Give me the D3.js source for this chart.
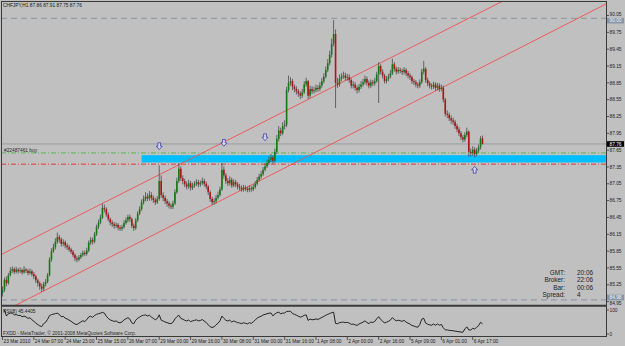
<!DOCTYPE html>
<html lang="en">
<head>
<meta charset="UTF-8">
<title>CHFJPY,H1</title>
<script src="https://d3js.org/d3.v7.min.js"></script>
<style>
    html, body { margin: 0; padding: 0; background: #c0c0c0; }
    svg { display: block; font-family: 'Liberation Sans', Arial, sans-serif; }
</style>
</head>
<body>
<div id="chart"></div>
<script>
// H1 candles (open = previous close)
const firstOpen = 85.10;
const closes = [
    85.16, 85.34, 85.28, 85.42, 85.50, 85.53, 85.48, 85.52, 85.49, 85.51, 85.47, 85.52, 85.50, 85.46, 85.49, 85.44,
    85.40, 85.33, 85.28, 85.22, 85.18, 85.26, 85.30, 85.42, 85.70, 85.85, 85.92, 86.02, 86.10, 86.06, 85.98, 86.01,
    85.95, 85.92, 85.88, 85.84, 85.78, 85.72, 85.70, 85.74, 85.78, 85.82, 85.80, 85.86, 86.00, 86.05, 86.02, 86.15,
    86.28, 86.36, 86.45, 86.62, 86.60, 86.50, 86.42, 86.36, 86.33, 86.30, 86.32, 86.27, 86.25, 86.28, 86.35, 86.40,
    86.46, 86.42, 86.30, 86.26, 86.40, 86.52, 86.60, 86.72, 86.78, 86.82, 86.79, 86.85, 86.80, 86.76, 86.72, 86.78,
    87.10, 86.85, 86.80, 86.74, 86.70, 86.66, 86.64, 86.70, 86.90, 87.10, 87.32, 87.15, 87.10, 87.04, 87.00, 87.06,
    86.98, 87.02, 87.05, 87.08, 87.04, 87.06, 87.10, 87.05, 87.00, 86.90, 86.78, 86.72, 86.74, 86.80, 86.85, 86.95,
    87.30, 87.20, 87.10, 87.06, 87.12, 87.02, 87.08, 87.04, 87.00, 86.98, 86.95, 86.98, 86.96, 86.94, 86.97, 86.95,
    86.99, 87.05, 87.12, 87.18, 87.22, 87.30, 87.36, 87.42, 87.48, 87.52, 87.46, 87.62, 87.85, 88.00, 87.95, 88.08,
    88.10, 88.72, 88.85, 88.88, 88.78, 88.74, 88.70, 88.66, 88.62, 88.68, 88.82, 88.88, 88.62, 88.74, 88.70, 88.72,
    88.76, 88.74, 88.80, 88.88, 88.96, 89.08, 89.20, 89.35, 89.55, 89.72, 88.85, 88.82, 88.92, 88.96, 88.98, 88.94,
    88.95, 88.90, 88.80, 88.82, 88.76, 88.72, 88.78, 88.82, 88.86, 88.92, 88.85, 88.80, 88.86, 88.84, 88.88, 89.00,
    89.15, 89.05, 88.98, 88.88, 88.92, 88.96, 89.02, 89.18, 89.10, 89.05, 89.08, 89.06, 89.04, 89.08, 89.02, 88.98,
    88.95, 88.88, 88.86, 88.82, 88.80, 88.86, 89.05, 89.10, 88.90, 88.84, 88.80, 88.78, 88.82, 88.76, 88.80, 88.74,
    88.76, 88.55, 88.30, 88.28, 88.22, 88.18, 88.15, 88.08, 88.02, 87.95, 87.88, 87.84, 87.92, 87.98, 87.62, 87.60,
    87.66, 87.58, 87.64, 87.70, 87.86, 87.76
];
const highs = [
    85.22, 85.38, 85.40, 85.46, 85.56, 85.58, 85.56, 85.57, 85.55, 85.56, 85.54, 85.58, 85.55, 85.53, 85.54, 85.52,
    85.48, 85.43, 85.36, 85.31, 85.27, 85.30, 85.35, 85.46, 85.74, 85.90, 85.98, 86.08, 86.18, 86.14, 86.09, 86.06,
    86.04, 85.99, 85.96, 85.91, 85.87, 85.81, 85.76, 85.78, 85.82, 85.86, 85.86, 85.91, 86.04, 86.10, 86.09, 86.19,
    86.32, 86.41, 86.50, 86.70, 86.68, 86.63, 86.54, 86.45, 86.40, 86.37, 86.36, 86.35, 86.31, 86.32, 86.40, 86.45,
    86.50, 86.50, 86.45, 86.34, 86.44, 86.56, 86.65, 86.77, 86.84, 86.90, 86.88, 86.92, 86.90, 86.84, 86.80, 86.83,
    87.38, 87.20, 86.90, 86.84, 86.78, 86.74, 86.70, 86.75, 86.95, 87.16, 87.42, 87.36, 87.20, 87.14, 87.09, 87.12,
    87.10, 87.07, 87.10, 87.13, 87.12, 87.11, 87.16, 87.14, 87.09, 87.03, 86.93, 86.82, 86.79, 86.85, 86.91, 87.00,
    87.42, 87.36, 87.24, 87.15, 87.18, 87.16, 87.13, 87.12, 87.08, 87.05, 87.02, 87.03, 87.02, 87.00, 87.02, 87.01,
    87.04, 87.10, 87.17, 87.23, 87.28, 87.35, 87.42, 87.48, 87.54, 87.58, 87.56, 87.68, 87.92, 88.08, 88.05, 88.15,
    88.18, 88.78, 88.98, 88.95, 88.92, 88.82, 88.79, 88.74, 88.70, 88.74, 88.88, 88.94, 88.90, 88.80, 88.79, 88.78,
    88.82, 88.81, 88.86, 88.94, 89.02, 89.14, 89.27, 89.42, 89.64, 89.97, 89.80, 88.94, 89.00, 89.02, 89.05, 89.03,
    89.01, 89.00, 88.93, 88.88, 88.86, 88.80, 88.83, 88.88, 88.92, 88.98, 88.96, 88.89, 88.91, 88.90, 88.94, 89.05,
    89.22, 89.18, 89.09, 89.01, 88.97, 89.01, 89.08, 89.28, 89.22, 89.14, 89.13, 89.12, 89.10, 89.13, 89.11, 89.06,
    89.02, 88.98, 88.92, 88.90, 88.86, 88.91, 89.10, 89.24, 89.13, 88.94, 88.88, 88.84, 88.87, 88.86, 88.85, 88.84,
    88.82, 88.80, 88.58, 88.36, 88.32, 88.27, 88.23, 88.19, 88.12, 88.06, 87.99, 87.92, 87.97, 88.05, 88.00, 87.68,
    87.72, 87.70, 87.69, 87.75, 87.90, 87.91
];
const lows = [
    85.04, 85.12, 85.22, 85.25, 85.40, 85.46, 85.44, 85.45, 85.45, 85.46, 85.43, 85.45, 85.46, 85.42, 85.43, 85.40,
    85.35, 85.28, 85.22, 85.16, 85.12, 85.14, 85.22, 85.28, 85.40, 85.66, 85.82, 85.88, 85.98, 86.00, 85.93, 85.94,
    85.90, 85.87, 85.84, 85.80, 85.74, 85.67, 85.65, 85.67, 85.71, 85.75, 85.76, 85.77, 85.83, 85.96, 85.97, 85.99,
    86.12, 86.24, 86.33, 86.42, 86.54, 86.46, 86.38, 86.31, 86.28, 86.25, 86.26, 86.22, 86.21, 86.21, 86.25, 86.32,
    86.36, 86.37, 86.26, 86.21, 86.23, 86.37, 86.49, 86.57, 86.68, 86.74, 86.74, 86.75, 86.75, 86.71, 86.67, 86.69,
    86.75, 86.80, 86.74, 86.69, 86.64, 86.61, 86.60, 86.60, 86.67, 86.87, 87.06, 87.10, 87.04, 86.99, 86.95, 86.96,
    86.93, 86.94, 86.98, 87.01, 86.99, 87.00, 87.03, 87.00, 86.95, 86.85, 86.73, 86.67, 86.68, 86.70, 86.77, 86.82,
    86.92, 87.14, 87.05, 87.01, 87.02, 86.98, 86.99, 86.99, 86.95, 86.93, 86.91, 86.91, 86.92, 86.90, 86.90, 86.91,
    86.92, 86.96, 87.02, 87.09, 87.14, 87.19, 87.27, 87.33, 87.39, 87.44, 87.41, 87.43, 87.58, 87.80, 87.90, 87.92,
    88.02, 88.06, 88.68, 88.80, 88.72, 88.68, 88.64, 88.60, 88.56, 88.58, 88.65, 88.78, 88.56, 88.58, 88.65, 88.66,
    88.68, 88.69, 88.70, 88.76, 88.84, 88.93, 89.04, 89.16, 89.30, 89.50, 88.40, 88.76, 88.78, 88.88, 88.92, 88.89,
    88.89, 88.85, 88.75, 88.75, 88.71, 88.66, 88.68, 88.74, 88.78, 88.82, 88.80, 88.75, 88.76, 88.79, 88.80, 88.85,
    88.49, 89.00, 88.93, 88.84, 88.84, 88.88, 88.93, 88.99, 89.05, 89.00, 89.01, 89.02, 88.99, 89.00, 88.97, 88.93,
    88.90, 88.83, 88.81, 88.77, 88.75, 88.76, 88.83, 89.00, 88.85, 88.79, 88.75, 88.73, 88.74, 88.71, 88.72, 88.69,
    88.70, 88.50, 88.25, 88.22, 88.17, 88.12, 88.10, 88.03, 87.97, 87.90, 87.83, 87.79, 87.80, 87.88, 87.53, 87.54,
    87.55, 87.52, 87.54, 87.60, 87.66, 87.75
];

// time axis labels, one every 16 bars
const timeLabels = [
    "23 Mar 2010", "24 Mar 07:00", "24 Mar 23:00", "25 Mar 15:00", "26 Mar 07:00", "29 Mar 00:00",
    "29 Mar 16:00", "30 Mar 08:00", "31 Mar 00:00", "31 Mar 16:00", "1 Apr 08:00", "2 Apr 00:00",
    "2 Apr 16:00", "5 Apr 09:00", "6 Apr 01:00", "6 Apr 17:00"
];
const labelStep = 16;

// price scale labels
const priceTicks = [84.95, 85.25, 85.55, 85.85, 86.15, 86.45, 86.75, 87.05, 87.35, 87.65,
    87.95, 88.25, 88.55, 88.85, 89.15, 89.45, 89.75, 90.05];

// chart objects
const bidPrice = 87.76;
const topLevel = 90.00;
const bottomLevel = 84.98;
const orderPrice = 87.60;
const stopPrice = 87.40;
const zoneStartBar = 71;
const zonePrices = [87.56, 87.43];
const channelUpper = [[0, 85.80], [200, 89.33]];
const channelLower = [[0, 84.765], [200, 88.33]];
const arrowBars = [80, 113, 134, 241];
const arrowPrices = [87.72, 87.78, 87.88, 87.30];
const arrowDirs = ["down", "down", "down", "up"];

const infoLabels = ["GMT:", "Broker:", "Bar:", "Spread:"];
const infoValues = ["20:06", "22:06", "00:06", "4"];

const rsiPeriod = 8;
const rsiText = "RSI(8) 45.4405";

// ---------------------------------------------------------------
const W = 625, H = 346;
const left = 1, right = 606;
const mainTop = 1, mainBottom = 305;
const subTop = 307, subBottom = 337;

const svg = d3.select('#chart').append('svg')
    .attr('width', W).attr('height', H)
    .style('background', '#c0c0c0');

const x = d3.scaleLinear().domain([0, closes.length - 1]).range([2.5, 482.5]);
const y = d3.scaleLinear().domain([84.95, 90.05]).range([301.6, 15.5]);
const yr = d3.scaleLinear().domain([0, 100]).range([334, 310]);

svg.append('defs').append('clipPath').attr('id', 'mainClip')
    .append('rect').attr('x', left).attr('y', mainTop)
    .attr('width', right - left).attr('height', mainBottom - mainTop);
svg.select('defs').append('clipPath').attr('id', 'subClip')
    .append('rect').attr('x', left).attr('y', subTop)
    .attr('width', right - left).attr('height', subBottom - subTop);

const main = svg.append('g').attr('clip-path', 'url(#mainClip)');

// dashed top / bottom levels
[topLevel, bottomLevel].forEach(p => {
    main.append('line')
        .attr('x1', left).attr('x2', right)
        .attr('y1', y(p)).attr('y2', y(p))
        .attr('stroke', '#8a949e').attr('stroke-width', 1)
        .attr('stroke-dasharray', '6,4');
});

// cyan zone
main.append('rect')
    .attr('x', x(zoneStartBar)).attr('y', y(zonePrices[0]))
    .attr('width', right - x(zoneStartBar))
    .attr('height', y(zonePrices[1]) - y(zonePrices[0]))
    .attr('fill', '#00bfff');

// order and stop lines
main.append('line')
    .attr('x1', left).attr('x2', right)
    .attr('y1', y(orderPrice)).attr('y2', y(orderPrice))
    .attr('stroke', '#55b855').attr('stroke-width', 1)
    .attr('stroke-dasharray', '5,2,1,2');
main.append('line')
    .attr('x1', left).attr('x2', right)
    .attr('y1', y(stopPrice)).attr('y2', y(stopPrice))
    .attr('stroke', '#e03a3a').attr('stroke-width', 1)
    .attr('stroke-dasharray', '5,2,1,2');

// bid line
main.append('line')
    .attr('x1', left).attr('x2', right)
    .attr('y1', y(bidPrice)).attr('y2', y(bidPrice))
    .attr('stroke', '#8c949c').attr('stroke-width', 0.8);

// channel lines
[channelUpper, channelLower].forEach(pts => {
    const slope = (pts[1][1] - pts[0][1]) / (pts[1][0] - pts[0][0]);
    const i0 = x.invert(left), i1 = x.invert(right);
    main.append('line')
        .attr('x1', x(i0)).attr('y1', y(pts[0][1] + slope * (i0 - pts[0][0])))
        .attr('x2', x(i1)).attr('y2', y(pts[0][1] + slope * (i1 - pts[0][0])))
        .attr('stroke', '#f05050').attr('stroke-width', 0.9);
});

// candles
const opens = closes.map((c, i) => i === 0 ? firstOpen : closes[i - 1]);
const candles = closes.map((c, i) => ({ i, o: opens[i], h: highs[i], l: lows[i], c }));

main.selectAll('.wick').data(candles).enter().append('line')
    .attr('class', 'wick')
    .attr('x1', d => x(d.i)).attr('x2', d => x(d.i))
    .attr('y1', d => y(d.h)).attr('y2', d => y(d.l))
    .attr('stroke', '#4a4a4a').attr('stroke-width', 0.8);

main.selectAll('.body').data(candles).enter().append('rect')
    .attr('class', 'body')
    .attr('x', d => x(d.i) - 0.8)
    .attr('width', 1.6)
    .attr('y', d => y(Math.max(d.o, d.c)))
    .attr('height', d => Math.max(0.8, Math.abs(y(d.o) - y(d.c))))
    .attr('fill', d => d.c >= d.o ? '#157a15' : '#b01414');

// trade arrows
arrowBars.forEach((b, k) => {
    const cx = x(b), cy = y(arrowPrices[k]);
    const s = arrowDirs[k] === 'down' ? 1 : -1;
    const path = d3.path();
    path.moveTo(cx - 1.4, cy - 3.4 * s);
    path.lineTo(cx + 1.4, cy - 3.4 * s);
    path.lineTo(cx + 1.4, cy);
    path.lineTo(cx + 3, cy);
    path.lineTo(cx, cy + 3.4 * s);
    path.lineTo(cx - 3, cy);
    path.lineTo(cx - 1.4, cy);
    path.closePath();
    main.append('path').attr('d', path.toString())
        .attr('fill', '#d6d6f2').attr('stroke', '#3c3ca8').attr('stroke-width', 0.8);
});

// texts in main panel
svg.append('text').attr('x', 3).attr('y', 6.8)
    .attr('font-size', 4.8).attr('fill', '#1a1a1a')
    .text('CHFJPY,H1  87.86 87.91 87.75 87.76');
svg.append('text').attr('x', 4).attr('y', 152.4)
    .attr('font-size', 4.8).attr('fill', '#2a2a2a')
    .text('#22487461 buy');

infoLabels.forEach((t, k) => {
    const yy = 275 + k * 7.4;
    svg.append('text').attr('x', 565).attr('y', yy)
        .attr('text-anchor', 'end').attr('font-size', 6.4).attr('fill', '#222')
        .text(t);
    svg.append('text').attr('x', 577).attr('y', yy)
        .attr('font-size', 6.4).attr('fill', '#222')
        .text(infoValues[k]);
});

// RSI panel
const rsi = [];
let ag = 0, al = 0;
for (let i = 1; i < closes.length; i++) {
    const d = closes[i] - closes[i - 1];
    const k = Math.min(i, rsiPeriod);
    ag = (ag * (k - 1) + Math.max(d, 0)) / k;
    al = (al * (k - 1) + Math.max(-d, 0)) / k;
    rsi.push({ i, v: al === 0 ? 100 : 100 - 100 / (1 + ag / al) });
}
svg.append('g').attr('clip-path', 'url(#subClip)')
    .append('path').datum(rsi)
    .attr('d', d3.line().x(d => x(d.i)).y(d => yr(d.v)))
    .attr('fill', 'none').attr('stroke', '#111').attr('stroke-width', 0.9);

svg.append('text').attr('x', 3).attr('y', 313)
    .attr('font-size', 4.8).attr('fill', '#1a1a1a').text(rsiText);
svg.append('text').attr('x', 3).attr('y', 335)
    .attr('font-size', 4.8).attr('fill', '#2a2a2a')
    .text('FXDD - MetaTrader, \u00a9 2001-2008 MetaQuotes Software Corp.');

// frames
const frame = svg.append('g').attr('fill', 'none').attr('stroke', '#3a3a3a');
frame.append('line').attr('x1', left + 0.5).attr('x2', left + 0.5).attr('y1', mainTop).attr('y2', subBottom).attr('stroke-width', 1);
frame.append('line').attr('x1', left).attr('x2', right).attr('y1', mainTop + 0.5).attr('y2', mainTop + 0.5).attr('stroke-width', 1);
frame.append('line').attr('x1', right + 0.5).attr('x2', right + 0.5).attr('y1', mainTop).attr('y2', subBottom).attr('stroke-width', 1);
frame.append('line').attr('x1', left).attr('x2', right).attr('y1', mainBottom + 0.8).attr('y2', mainBottom + 0.8).attr('stroke-width', 2);
frame.append('line').attr('x1', left).attr('x2', right).attr('y1', subBottom - 0.5).attr('y2', subBottom - 0.5).attr('stroke-width', 1);

// price axis; labels that sit under a level box are nudged clear of it
const ax = svg.append('g');
const boxShift = { [topLevel]: 2.4, [bottomLevel]: -2.4 };
const tickShift = { 90.05: -1.6, 84.95: 1.4 };
priceTicks.forEach(p => {
    ax.append('line').attr('x1', right).attr('x2', right + 3)
        .attr('y1', y(p)).attr('y2', y(p)).attr('stroke', '#3a3a3a').attr('stroke-width', 0.8);
    ax.append('text').attr('x', right + 3.5).attr('y', y(p) + 1.7 + (tickShift[p] || 0))
        .attr('font-size', 4.8).attr('fill', '#1e1e1e').text(p.toFixed(2));
});
[[topLevel, '#8796a8', '#eef2f8'], [bottomLevel, '#8796a8', '#eef2f8'], [bidPrice, '#000', '#fff']].forEach(([p, bg, fg]) => {
    const cy = y(p) + (boxShift[p] || 0);
    ax.append('rect').attr('x', right + 1).attr('y', cy - 2.8)
        .attr('width', 17).attr('height', 5.6).attr('fill', bg);
    ax.append('text').attr('x', right + 3.5).attr('y', cy + 1.7)
        .attr('font-size', 4.8).attr('fill', fg).text(p.toFixed(2));
});
[[100, '100'], [0, '0']].forEach(([v, t]) => {
    ax.append('line').attr('x1', right).attr('x2', right + 3)
        .attr('y1', yr(v)).attr('y2', yr(v)).attr('stroke', '#3a3a3a').attr('stroke-width', 0.8);
    ax.append('text').attr('x', right + 3.5).attr('y', yr(v) + 1.7)
        .attr('font-size', 4.8).attr('fill', '#1e1e1e').text(t);
});

// time axis
timeLabels.forEach((t, k) => {
    const xx = x(k * labelStep);
    ax.append('line').attr('x1', xx).attr('x2', xx)
        .attr('y1', subBottom).attr('y2', subBottom + 3).attr('stroke', '#3a3a3a').attr('stroke-width', 0.8);
    ax.append('text').attr('x', xx + 1).attr('y', 342.8)
        .attr('font-size', 4.8).attr('fill', '#1e1e1e').text(t);
});
</script>
</body>
</html>
